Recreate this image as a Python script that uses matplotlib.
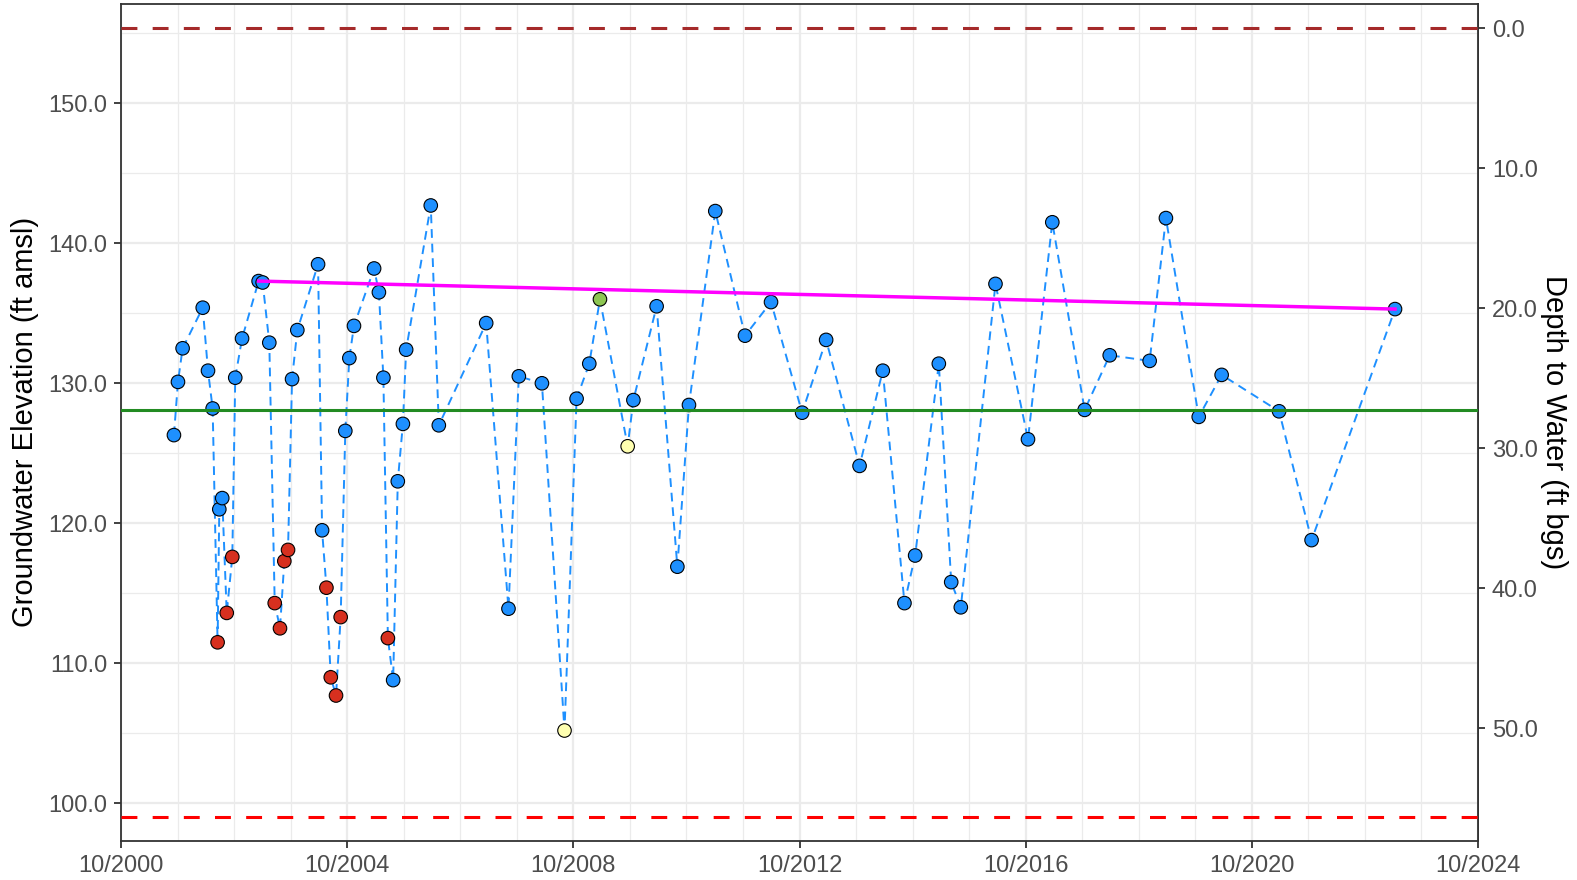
import matplotlib
matplotlib.use('Agg')
import matplotlib.pyplot as plt
import matplotlib.dates as mdates
from matplotlib.ticker import FixedLocator, FormatStrFormatter
import pandas as pd

plt.rcParams['font.family'] = ['Liberation Sans', 'DejaVu Sans']

## Data

sample_dates = [
    '2001-09-08', '2001-10-04', '2001-11-03', '2002-03-13', '2002-04-16', '2002-05-16',
    '2002-06-17', '2002-06-28', '2002-07-17', '2002-08-15', '2002-09-20', '2002-10-09',
    '2002-11-22', '2003-03-09', '2003-04-04', '2003-05-17', '2003-06-21', '2003-07-25',
    '2003-08-22', '2003-09-15', '2003-10-11', '2003-11-14', '2004-03-27', '2004-04-22',
    '2004-05-20', '2004-06-17', '2004-07-21', '2004-08-20', '2004-09-19', '2004-10-15',
    '2004-11-14', '2005-03-24', '2005-04-24', '2005-05-23', '2005-06-21', '2005-07-25',
    '2005-08-24', '2005-09-26', '2005-10-17', '2006-03-25', '2006-05-16', '2007-03-18',
    '2007-08-09', '2007-10-15', '2008-03-12', '2008-08-05', '2008-10-22', '2009-01-12',
    '2009-03-22', '2009-09-17', '2009-10-24', '2010-03-23', '2010-08-04', '2010-10-18',
    '2011-04-06', '2011-10-15', '2012-03-31', '2012-10-18', '2013-03-22', '2013-10-24',
    '2014-03-23', '2014-08-10', '2014-10-18', '2015-03-20', '2015-06-08', '2015-08-09',
    '2016-03-20', '2016-10-16', '2017-03-22', '2017-10-17', '2018-03-28', '2018-12-11',
    '2019-03-26', '2019-10-24', '2020-03-20', '2021-03-26', '2021-10-22', '2023-04-14',
]
gw_elev = [
    126.3, 130.1, 132.5, 135.4, 130.9, 128.2,
    111.5, 121.0, 121.8, 113.6, 117.6, 130.4,
    133.2, 137.3, 137.2, 132.9, 114.3, 112.5,
    117.3, 118.1, 130.3, 133.8, 138.5, 119.5,
    115.4, 109.0, 107.7, 113.3, 126.6, 131.8,
    134.1, 138.2, 136.5, 130.4, 111.8, 108.8,
    123.0, 127.1, 132.4, 142.7, 127.0, 134.3,
    113.9, 130.5, 130.0, 105.2, 128.9, 131.4,
    136.0, 125.5, 128.8, 135.5, 116.9, 128.45,
    142.3, 133.4, 135.8, 127.9, 133.1, 124.1,
    130.9, 114.3, 117.7, 131.4, 115.8, 114.0,
    137.1, 126.0, 141.5, 128.1, 132.0, 131.6,
    141.8, 127.6, 130.6, 128.0, 118.8, 135.3,
]
# q = questionable / pumping, e = estimated, f = flagged, v = valid
sample_flag = [
    'v', 'v', 'v', 'v', 'v', 'v',
    'q', 'v', 'v', 'q', 'q', 'v',
    'v', 'v', 'v', 'v', 'q', 'q',
    'q', 'q', 'v', 'v', 'v', 'v',
    'q', 'q', 'q', 'q', 'v', 'v',
    'v', 'v', 'v', 'v', 'q', 'v',
    'v', 'v', 'v', 'v', 'v', 'v',
    'v', 'v', 'v', 'e', 'v', 'v',
    'f', 'e', 'v', 'v', 'v', 'v',
    'v', 'v', 'v', 'v', 'v', 'v',
    'v', 'v', 'v', 'v', 'v', 'v',
    'v', 'v', 'v', 'v', 'v', 'v',
    'v', 'v', 'v', 'v', 'v', 'v',
]

ground_surface = 155.35
min_threshold = 99.0
measurable_objective = 128.1
trend_dates = ['2003-03-09', '2023-04-14']
trend_elev = [137.3, 135.3]

flag_colors = {'v': '#1E90FF', 'q': '#D7301F', 'e': '#FFFFB0', 'f': '#8DC653'}

## Plotting

t = pd.to_datetime(sample_dates)
t_trend = pd.to_datetime(trend_dates)

fig = plt.figure(figsize=(15.77, 8.8), dpi=100)
W, H = 1577, 880
ax = fig.add_axes([121 / W, 1 - 840.7 / H, (1478 - 121) / W, (840.7 - 4) / H])

# grid
ax.xaxis.set_major_locator(mdates.YearLocator(4, month=10, day=1))
ax.xaxis.set_minor_locator(mdates.YearLocator(1, month=10, day=1))
ax.xaxis.set_major_formatter(mdates.DateFormatter('%m/%Y'))
ax.yaxis.set_major_locator(FixedLocator([100, 110, 120, 130, 140, 150]))
ax.yaxis.set_minor_locator(FixedLocator([105, 115, 125, 135, 145, 155]))
ax.yaxis.set_major_formatter(FormatStrFormatter('%.1f'))
ax.grid(which='major', color='#EBEBEB', lw=1.6, zorder=0)
ax.grid(which='minor', color='#EBEBEB', lw=0.9, zorder=0)
ax.set_axisbelow(True)

ax.plot(t, gw_elev, ls=(0, (4.5, 3)), lw=1.4, color='#1E90FF', zorder=2)
ax.scatter(t, gw_elev, s=95, c=[flag_colors[f] for f in sample_flag],
           edgecolors='black', linewidths=0.8, zorder=3)

ax.axhline(ground_surface, color='#A52A2A', lw=2.2, ls=(0, (5.2, 5)), zorder=4)
ax.axhline(min_threshold, color='#FF0000', lw=2.2, ls=(0, (5.2, 5)), zorder=4)
ax.axhline(measurable_objective, color='#228B22', lw=2.2, zorder=4)
ax.plot(t_trend, trend_elev, color='#FF00FF', lw=2.5, zorder=5)

ax.set_xlim(pd.Timestamp('2000-10-01'), pd.Timestamp('2024-10-01'))
ax.set_ylim(97.33, 157.09)

for s in ax.spines.values():
    s.set_color('#333333')
    s.set_linewidth(1.3)
ax.tick_params(which='major', length=5, width=1.3, color='#333333',
               labelsize=17, labelcolor='#4D4D4D', pad=5)
ax.tick_params(which='minor', length=0)

sec = ax.secondary_yaxis('right', functions=(lambda e: ground_surface - e,
                                             lambda d: ground_surface - d))
sec.yaxis.set_major_locator(FixedLocator([0, 10, 20, 30, 40, 50]))
sec.yaxis.set_major_formatter(FormatStrFormatter('%.1f'))
sec.yaxis.set_minor_locator(FixedLocator([]))
sec.spines['right'].set_color('#333333')
sec.spines['right'].set_linewidth(1.3)
sec.tick_params(which='major', length=5, width=1.3, color='#333333',
                labelsize=17, labelcolor='#4D4D4D', pad=5)

fig.text(25 / W, 1 - 422 / H, 'Groundwater Elevation (ft amsl)', rotation=90,
         ha='center', va='center', fontsize=21)
fig.text(1554 / W, 1 - 422 / H, 'Depth to Water (ft bgs)', rotation=270,
         ha='center', va='center', fontsize=21)

fig.savefig('out.png', dpi=100)
